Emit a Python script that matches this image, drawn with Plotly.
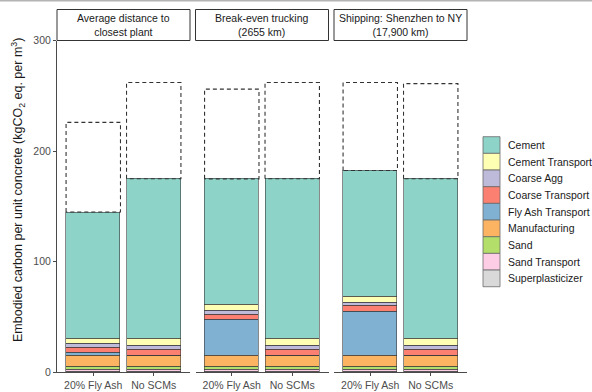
import plotly.graph_objects as go
from plotly.subplots import make_subplots

# ---- data -------------------------------------------------------------
scenarios = [
    "Average distance to<br>closest plant",
    "Break-even trucking<br>(2655 km)",
    "Shipping: Shenzhen to NY<br>(17,900 km)",
]
mixes = ["20% Fly Ash", "No SCMs"]

# one value per bar: (scenario 1: FA, none), (scenario 2: FA, none), (scenario 3: FA, none)
cement            = [114.0, 144.4, 114.0, 144.4, 114.0, 144.4]
cement_transport  = [5.2, 6.1, 5.2, 6.1, 5.2, 6.1]
coarse_agg        = [3.0, 3.8, 3.0, 3.8, 3.0, 3.8]
coarse_transport  = [5.0, 5.5, 5.0, 5.5, 5.0, 5.5]
fly_ash_transport = [2.5, 0.0, 32.5, 0.0, 40.0, 0.0]
manufacturing     = [10.0, 10.0, 10.0, 10.0, 10.0, 10.0]
sand              = [2.3, 2.3, 2.3, 2.3, 2.3, 2.3]
sand_transport    = [2.5, 2.5, 2.5, 2.5, 2.5, 2.5]
superplasticizer  = [0.4, 0.4, 0.4, 0.4, 0.4, 0.4]

# upper estimate of total embodied carbon (dashed outline)
upper_total = [226, 262, 256, 262, 262, 261]

components = [
    "Cement", "Cement Transport", "Coarse Agg", "Coarse Transport",
    "Fly Ash Transport", "Manufacturing", "Sand", "Sand Transport",
    "Superplasticizer",
]
series = [cement, cement_transport, coarse_agg, coarse_transport,
          fly_ash_transport, manufacturing, sand, sand_transport,
          superplasticizer]
colors = ["#8DD3C7", "#FFFFB3", "#BEBADA", "#FB8072", "#80B1D3",
          "#FDB462", "#B3DE69", "#FCCDE5", "#D9D9D9"]

# ---- layout geometry (pixels) ----------------------------------------
W, H = 592, 392
FONT = "Liberation Sans, Arial, sans-serif"
panel_x = [(57, 190), (195.5, 328.5), (334, 467)]
panel_bottom, panel_top = 372.3, 40.5
strip_top = 9.5
BAR_W = 0.9


def px_x(v):
    return v / W


def px_y(v):
    return 1 - v / H


fig = make_subplots(rows=1, cols=3, shared_yaxes=True)
x_pos = list(range(len(mixes)))

for s in range(len(scenarios)):
    sl = slice(2 * s, 2 * s + 2)
    # stacked from the bottom: last component first
    for name, vals, col in reversed(list(zip(components, series, colors))):
        fig.add_trace(
            go.Bar(
                x=x_pos, y=vals[sl], name=name, width=BAR_W,
                marker=dict(color=col, line=dict(color="#3a3a3a", width=0.6)),
                showlegend=False,
            ),
            row=1, col=s + 1,
        )
    # dashed boxes from the stacked total up to the upper estimate
    for i in x_pos:
        k = 2 * s + i
        total = sum(v[k] for v in series)
        up = upper_total[k]
        left, right = i - BAR_W / 2, i + BAR_W / 2
        fig.add_trace(
            go.Scatter(
                x=[left, left, right, right, left],
                y=[total, up, up, total, total],
                mode="lines",
                line=dict(color="#333333", width=1.1, dash="4px,3px"),
                hoverinfo="skip", showlegend=False,
            ),
            row=1, col=s + 1,
        )

axis_col = "#4a4a4a"
for s in range(3):
    xa = "xaxis" if s == 0 else f"xaxis{s + 1}"
    ya = "yaxis" if s == 0 else f"yaxis{s + 1}"
    fig.layout[xa].update(
        domain=[px_x(panel_x[s][0]), px_x(panel_x[s][1])],
        range=[-0.6, 1.6], tickvals=x_pos, ticktext=mixes,
        showline=True, linecolor=axis_col, linewidth=1,
        ticks="outside", ticklen=3, tickcolor=axis_col,
        tickfont=dict(family=FONT, size=10.5, color="#4d4d4d"),
        showgrid=False, zeroline=False, fixedrange=True, automargin=False,
    )
    fig.layout[ya].update(
        domain=[px_y(panel_bottom), px_y(panel_top)],
        range=[0, 300], showgrid=False, zeroline=False, automargin=False,
    )
    if s == 0:
        fig.layout[ya].update(
            tickvals=[0, 100, 200, 300], showline=True, linecolor=axis_col,
            linewidth=1, ticks="outside", ticklen=3, tickcolor=axis_col,
            tickfont=dict(family=FONT, size=10.5, color="#4d4d4d"),
        )
    else:
        fig.layout[ya].update(showline=False, showticklabels=False, ticks="")

shapes = []
annotations = []

# facet strips
for s, label in enumerate(scenarios):
    x0, x1 = panel_x[s]
    shapes.append(dict(
        type="rect", xref="paper", yref="paper",
        x0=px_x(x0), x1=px_x(x1), y0=px_y(panel_top), y1=px_y(strip_top),
        line=dict(color="#333333", width=1), fillcolor="white",
    ))
    annotations.append(dict(
        xref="paper", yref="paper", x=px_x((x0 + x1) / 2),
        y=px_y((panel_top + strip_top) / 2), text=label, showarrow=False,
        xanchor="center", yanchor="middle",
        font=dict(family=FONT, size=10.5, color="#1a1a1a"),
    ))

# y-axis title
annotations.append(dict(
    xref="paper", yref="paper", x=px_x(18), y=px_y(190),
    text="Embodied carbon per unit concrete (kgCO<sub>2</sub> eq. per m<sup>3</sup>)",
    textangle=-90, showarrow=False, xanchor="center", yanchor="middle",
    font=dict(family=FONT, size=12.5, color="#1a1a1a"),
))

# legend keys
key_x0, key_x1 = 483, 500
key_top, key_h = 136.7, 16.67
for j, (name, col) in enumerate(zip(components, colors)):
    y0 = key_top + j * key_h
    shapes.append(dict(
        type="rect", xref="paper", yref="paper",
        x0=px_x(key_x0), x1=px_x(key_x1), y0=px_y(y0 + key_h), y1=px_y(y0),
        line=dict(color="#6a6a6a", width=0.8), fillcolor=col,
    ))
    annotations.append(dict(
        xref="paper", yref="paper", x=px_x(506), y=px_y(y0 + key_h / 2),
        text=name, showarrow=False, xanchor="left", yanchor="middle",
        font=dict(family=FONT, size=10.5, color="#1a1a1a"),
    ))

# thin rule along the top edge
shapes.append(dict(
    type="line", xref="paper", yref="paper", x0=0, x1=1,
    y0=px_y(0.8), y1=px_y(0.8), line=dict(color="#b4b4b4", width=1.6),
))

fig.update_layout(
    width=W, height=H, barmode="stack", bargap=0,
    margin=dict(l=0, r=0, t=0, b=0),
    paper_bgcolor="white", plot_bgcolor="white",
    showlegend=False, shapes=shapes, annotations=annotations,
    font=dict(family=FONT),
)

fig.write_html("out.html")
